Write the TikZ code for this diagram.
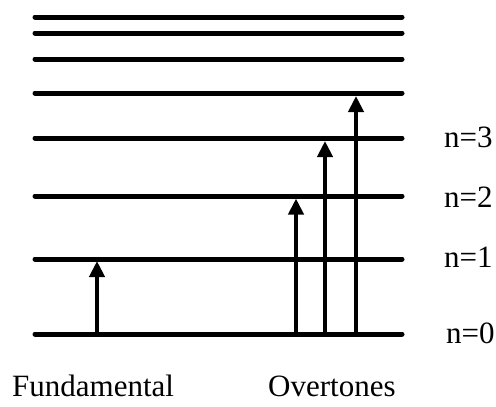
\documentclass[tikz,border=0pt]{standalone}
\usepackage{fontspec}
\setmainfont{Liberation Serif}
\usetikzlibrary{arrows.meta}
\begin{document}
\begin{tikzpicture}[x=1pt,y=1pt,
  level/.style={line width=5pt,line cap=round},
  trans/.style={line width=4.5pt,-{Triangle[length=16pt,width=15pt]}},
  lbl/.style={anchor=base west,inner sep=0pt,font=\fontsize{31}{37}\selectfont}]
\useasboundingbox (0,0) rectangle (496,-407);
% levels
\foreach \i/\y in {0/334,1/259,2/196,3/138,4/93,5/59,6/33,7/17}{
  \coordinate (L\i a) at (35,-\y);
  \coordinate (L\i b) at (402,-\y);
  \draw[level] (L\i a) -- (L\i b);
}
% arrows
\coordinate (f0) at (97,-334);   \coordinate (f1) at (97,-261);
\coordinate (o10) at (296,-334); \coordinate (o11) at (296,-198.5);
\coordinate (o20) at (325,-334); \coordinate (o21) at (325,-141);
\coordinate (o30) at (356,-334); \coordinate (o31) at (356,-96);
\draw[trans] (f0) -- (f1);
\draw[trans] (o10) -- (o11);
\draw[trans] (o20) -- (o21);
\draw[trans] (o30) -- (o31);
% labels
\node[lbl] (n3) at (444,-147) {n=3};
\node[lbl] (n2) at (444,-207) {n=2};
\node[lbl] (n1) at (444,-267) {n=1};
\node[lbl] (n0) at (446,-343) {n=0};
\node[lbl] (fund) at (12,-396) {Fundamental};
\node[lbl] (over) at (268,-396) {Overtones};
\end{tikzpicture}
\end{document}
